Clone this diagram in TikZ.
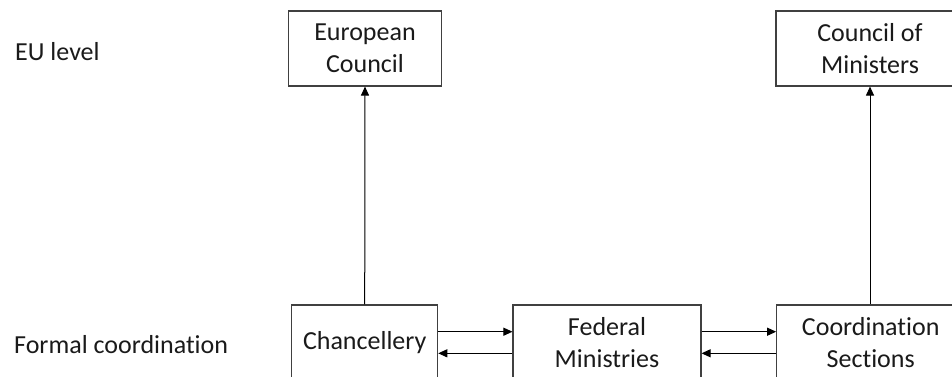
\documentclass[tikz,border=0pt]{standalone}
\usepackage{fontspec}
\setmainfont{Carlito}[Ligatures=NoCommon]
\usetikzlibrary{arrows.meta}
\definecolor{linegray}{HTML}{404040}
\definecolor{textgray}{HTML}{1A1A1A}
\tikzset{
  boxnode/.style={draw=linegray, line width=1.1pt, align=center, inner sep=0pt,
    minimum height=75pt, text=textgray,
    font=\fontsize{26}{31.7}\selectfont},
  lvl/.style={anchor=base west, inner sep=0pt, text=textgray,
    font=\fontsize{26}{31.7}\selectfont},
  arr/.style={draw=black, line width=1pt, -{Triangle[length=9pt,width=8pt]}}
}
\begin{document}
\begin{tikzpicture}[x=1pt,y=-1pt]
\useasboundingbox (0,0) rectangle (952,376);
\clip (0,0) rectangle (952,376);
\node[lvl] (eul) at (15,60) {EU level};
\node[lvl] (fcl) at (14,353) {Formal coordination};
\node[boxnode, minimum width=153.4pt] (euc) at (365,48.5) {European\\Council};
\node[boxnode, minimum width=188pt] (com) at (870,48.5) {Council of\\Ministers};
\node[boxnode, minimum width=146pt] (chan) at (364.7,342.5) {Chancellery};
\node[boxnode, minimum width=188pt] (fed) at (607,342.5) {Federal\\Ministries};
\node[boxnode, minimum width=188pt] (cos) at (870.7,342.5) {Coordination\\Sections};
\draw[arr] (chan.north) -- (euc.south);
\draw[arr] (cos.north -| com.south) -- (com.south);
\draw[arr] ([yshift=10.8pt]chan.east) -- ([yshift=10.8pt]fed.west);
\draw[arr] ([yshift=-10.8pt]fed.west) -- ([yshift=-10.8pt]chan.east);
\draw[arr] ([yshift=10.8pt]fed.east) -- ([yshift=10.8pt]cos.west);
\draw[arr] ([yshift=-10.8pt]cos.west) -- ([yshift=-10.8pt]fed.east);
\end{tikzpicture}
\end{document}
